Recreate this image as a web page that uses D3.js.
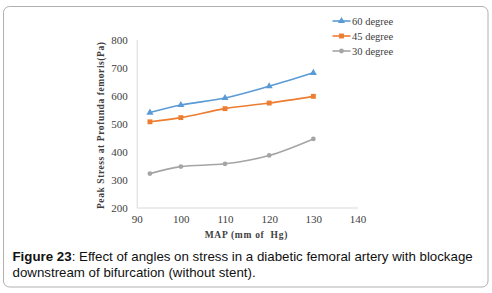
<!DOCTYPE html>
<html><head><meta charset="utf-8">
<script src="https://cdn.jsdelivr.net/npm/d3@7"></script>
<style>body{margin:0;background:#fff;}svg{display:block;}</style>
</head><body>
<script>
const mapValues = [93, 100, 110, 120, 130];
const deg60 = [539, 566, 591, 633, 681];
const deg45 = [506, 521, 553, 573, 597];
const deg30 = [321, 346, 356, 386, 445];
const seriesNames = ["60 degree", "45 degree", "30 degree"];
const xTicks = [90, 100, 110, 120, 130, 140];
const yTicks = [200, 300, 400, 500, 600, 700, 800];

const W = 492, H = 293;
const SERIF = "Liberation Serif";
const svg = d3.select("body").append("svg").attr("width", W).attr("height", H);

svg.append("rect").attr("x", 3.5).attr("y", 6.5).attr("width", 484.5).attr("height", 280.5)
  .attr("rx", 6).attr("fill", "#fff").attr("stroke", "#b0b0b0").attr("stroke-width", 1);

const x = d3.scaleLinear().domain([90, 140]).range([136.7, 357.5]);
const y = d3.scaleLinear().domain([200, 800]).range([207.5, 39.5]);

const series = [
  {name: seriesNames[0], vals: deg60, color: "#5b9bd5", shape: d3.symbolTriangle, size: 22},
  {name: seriesNames[1], vals: deg45, color: "#ed7d31", shape: d3.symbolSquare, size: 24},
  {name: seriesNames[2], vals: deg30, color: "#a5a5a5", shape: d3.symbolCircle, size: 18}
];

// axes
const xAxis = d3.axisBottom(x).tickValues(xTicks).tickSize(0).tickPadding(8);
const gx = svg.append("g").attr("transform", `translate(0,${y(200)})`).call(xAxis);
gx.attr("font-family", SERIF).attr("font-size", 11);
gx.select(".domain").attr("stroke", "#d9d9d9").attr("stroke-width", 1);
gx.selectAll("text").attr("font-family", SERIF).attr("fill", "#404040");

const yAxis = d3.axisLeft(y).tickValues(yTicks).tickSize(0).tickPadding(9);
const gy = svg.append("g").attr("transform", `translate(${x(90)},0)`).call(yAxis);
gy.attr("font-family", SERIF).attr("font-size", 11);
gy.select(".domain").attr("stroke", "#d9d9d9").attr("stroke-width", 1);
gy.selectAll("text").attr("font-family", SERIF).attr("fill", "#404040");

// lines
const line = d3.line().x((d, i) => x(mapValues[i])).y(d => y(d)).curve(d3.curveCatmullRom.alpha(0.5));
series.forEach(s => {
  svg.append("path").datum(s.vals).attr("d", line).attr("fill", "none")
    .attr("stroke", s.color).attr("stroke-width", 1.6);
  svg.selectAll(null).data(s.vals).enter().append("path")
    .attr("d", d3.symbol().type(s.shape).size(s.size))
    .attr("transform", (d, i) => `translate(${x(mapValues[i])},${y(d)})`)
    .attr("fill", s.color);
});

// axis titles
svg.append("text").attr("x", 204.7).attr("y", 238)
  .attr("font-family", SERIF).attr("font-weight", "bold").attr("font-size", 9.5)
  .attr("textLength", 82.6).attr("lengthAdjust", "spacing")
  .attr("fill", "#404040").style("white-space", "pre").text("MAP (mm of  Hg)");
svg.append("text").attr("transform", "translate(104,209) rotate(-90)")
  .attr("font-family", SERIF).attr("font-weight", "bold").attr("font-size", 9.5)
  .attr("textLength", 167).attr("lengthAdjust", "spacing")
  .attr("fill", "#404040").text("Peak Stress at Profunda femoris(Pa)");

// legend
series.forEach((s, i) => {
  const ly = 21 + i * 15;
  svg.append("line").attr("x1", 332.5).attr("x2", 350.5).attr("y1", ly).attr("y2", ly)
    .attr("stroke", s.color).attr("stroke-width", 1.6);
  svg.append("path").attr("d", d3.symbol().type(s.shape).size(s.size))
    .attr("transform", `translate(341.5,${ly})`).attr("fill", s.color);
  svg.append("text").attr("x", 352).attr("y", ly + 3.5)
    .attr("font-family", SERIF).attr("font-size", 10.5).attr("fill", "#404040").text(s.name);
});

// caption
const cap = svg.append("text").attr("font-family", "Liberation Sans")
  .attr("font-size", 13.3).attr("fill", "#111");
const t1 = cap.append("tspan").attr("x", 12.5).attr("y", 261);
t1.append("tspan").attr("font-weight", "bold").text("Figure 23");
t1.append("tspan").text(": Effect of angles on stress in a diabetic femoral artery with blockage");
cap.append("tspan").attr("x", 12.5).attr("y", 277).text("downstream of bifurcation (without stent).");
</script>
</body></html>
